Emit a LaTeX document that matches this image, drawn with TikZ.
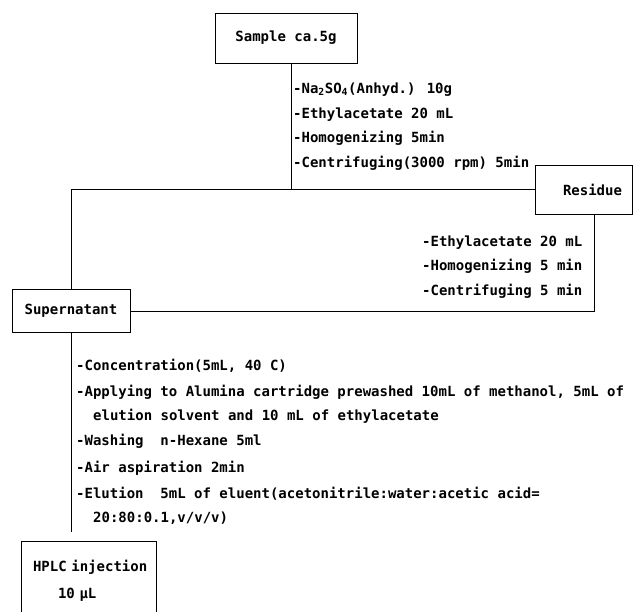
\documentclass[tikz,border=0pt]{standalone}
\usepackage{fontspec}
\setmainfont{DejaVu Sans Mono}[BoldFont={DejaVu Sans Mono Bold}]
\usetikzlibrary{calc}
\begin{document}
\begin{tikzpicture}[x=1pt,y=-1pt,
  every node/.style={font=\fontsize{14}{25}\selectfont\bfseries},
  box/.style={draw=black, line width=0.9pt, inner sep=0pt},
  itemtxt/.style={anchor=base west, inner sep=0pt},
  conn/.style={draw=black, line width=0.9pt}]
\useasboundingbox (0,0) rectangle (635,611);

% boxes
\node[box, minimum width=142, minimum height=50] (sample) at (286,38) {Sample ca.5g};
\node[box, minimum width=97, minimum height=49, text width=77, align=right, inner xsep=10pt] (residue) at (583.5,189.5) {Residue};
\node[box, minimum width=118, minimum height=43] (super) at (71,311) {Supernatant};
\node[box, minimum width=135, minimum height=80, text width=135, align=left,
      font=\fontsize{14}{27}\selectfont\bfseries] (hplc) at (88.5,581)
      {\hspace*{12pt}HPLC injection\\\hspace*{37pt}10 µL};

% junction coordinates
\coordinate (j1) at (291,189.5);
\coordinate (r1) at (594,311);

% connectors
\draw[conn] (sample.south -| j1) -- (j1);
\draw[conn] (residue.west) -| (super.north);
\draw[conn] (residue.south -| r1) -- (r1) -- (super.east);
\draw[conn] (super.south) -- ($(super.south |- hplc.north)+(0,-9)$);

% step lists
\node[itemtxt] (a1) at (293,93) {-Na\textsubscript{2}SO\textsubscript{4}(Anhyd.) 10g};
\node[itemtxt] (a2) at (293,118) {-Ethylacetate 20 mL};
\node[itemtxt] (a3) at (293,142) {-Homogenizing 5min};
\node[itemtxt] (a4) at (293,167) {-Centrifuging(3000 rpm) 5min};

\node[itemtxt] (b1) at (422,246) {-Ethylacetate 20 mL};
\node[itemtxt] (b2) at (422,270) {-Homogenizing 5 min};
\node[itemtxt] (b3) at (422,295) {-Centrifuging 5 min};

\node[itemtxt] (c1) at (76,370) {-Concentration(5mL, 40 C)};
\node[itemtxt] (c2) at (76,396) {-Applying to Alumina cartridge prewashed 10mL of methanol, 5mL of};
\node[itemtxt] (c3) at (93,420) {elution solvent and 10 mL of ethylacetate};
\node[itemtxt] (c4) at (76,445) {-Washing\ \ n-Hexane 5ml};
\node[itemtxt] (c5) at (76,472) {-Air aspiration 2min};
\node[itemtxt] (c6) at (76,498) {-Elution\ \ 5mL of eluent(acetonitrile:water:acetic acid=};
\node[itemtxt] (c7) at (93,522) {20:80:0.1,v/v/v)};
\end{tikzpicture}
\end{document}
